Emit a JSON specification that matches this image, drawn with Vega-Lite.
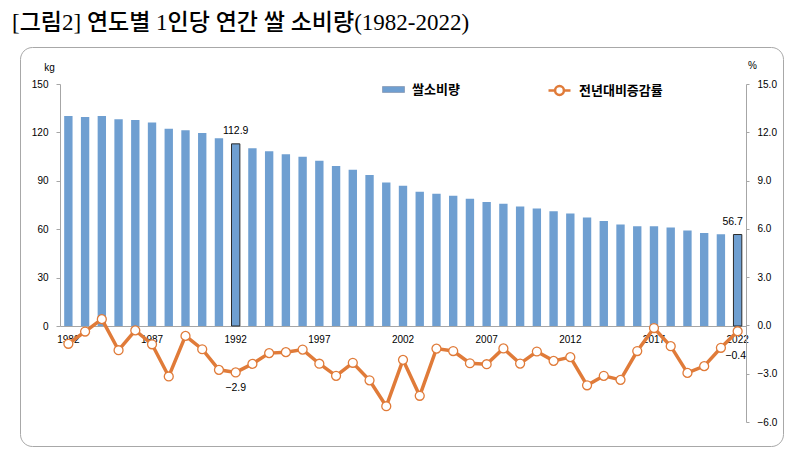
{
  "$schema": "https://vega.github.io/schema/vega-lite/v6.json",
  "width": 763,
  "height": 399,
  "autosize": {"type": "none"},
  "padding": {"left": 20, "top": 47, "right": 9, "bottom": 11},
  "background": "white",
  "config": {
    "view": {"stroke": "#a8a8a8", "strokeWidth": 1, "cornerRadius": 12},
    "font": "Liberation Sans",
    "axis": {"labelFont": "Liberation Sans", "labelFontSize": 10, "labelColor": "#000", "domainColor": "#a6a6a6", "tickColor": "#a6a6a6", "grid": false, "titleFont": "Liberation Sans", "titleFontWeight": "normal", "titleFontSize": 10, "titleColor": "#000"}
  },
  "title": {"text": "[그림2] 연도별 1인당 연간 쌀 소비량(1982-2022)", "anchor": "start", "font": "Liberation Serif, Noto Sans CJK KR", "fontSize": 23, "fontWeight": 500, "color": "#000", "offset": 12, "dx": -8},
  "data": {"values": [
    {"year": 1982, "kg": 130.1, "rate": -1.14},
    {"year": 1983, "kg": 129.6, "rate": -0.38},
    {"year": 1984, "kg": 130.1, "rate": 0.39},
    {"year": 1985, "kg": 128.1, "rate": -1.54},
    {"year": 1986, "kg": 127.7, "rate": -0.31},
    {"year": 1987, "kg": 126.2, "rate": -1.17},
    {"year": 1988, "kg": 122.2, "rate": -3.17},
    {"year": 1989, "kg": 121.4, "rate": -0.65},
    {"year": 1990, "kg": 119.6, "rate": -1.48},
    {"year": 1991, "kg": 116.3, "rate": -2.76},
    {"year": 1992, "kg": 112.9, "rate": -2.92},
    {"year": 1993, "kg": 110.2, "rate": -2.39},
    {"year": 1994, "kg": 108.3, "rate": -1.72},
    {"year": 1995, "kg": 106.5, "rate": -1.66},
    {"year": 1996, "kg": 104.9, "rate": -1.5},
    {"year": 1997, "kg": 102.4, "rate": -2.38},
    {"year": 1998, "kg": 99.2, "rate": -3.13},
    {"year": 1999, "kg": 96.9, "rate": -2.32},
    {"year": 2000, "kg": 93.6, "rate": -3.41},
    {"year": 2001, "kg": 88.9, "rate": -5.02},
    {"year": 2002, "kg": 87.0, "rate": -2.14},
    {"year": 2003, "kg": 83.2, "rate": -4.37},
    {"year": 2004, "kg": 82.0, "rate": -1.44},
    {"year": 2005, "kg": 80.7, "rate": -1.59},
    {"year": 2006, "kg": 78.8, "rate": -2.35},
    {"year": 2007, "kg": 76.9, "rate": -2.41},
    {"year": 2008, "kg": 75.8, "rate": -1.43},
    {"year": 2009, "kg": 74.0, "rate": -2.37},
    {"year": 2010, "kg": 72.8, "rate": -1.62},
    {"year": 2011, "kg": 71.2, "rate": -2.2},
    {"year": 2012, "kg": 69.8, "rate": -1.97},
    {"year": 2013, "kg": 67.2, "rate": -3.72},
    {"year": 2014, "kg": 65.1, "rate": -3.13},
    {"year": 2015, "kg": 62.9, "rate": -3.38},
    {"year": 2016, "kg": 61.9, "rate": -1.59},
    {"year": 2017, "kg": 61.8, "rate": -0.16},
    {"year": 2018, "kg": 61.0, "rate": -1.29},
    {"year": 2019, "kg": 59.2, "rate": -2.95},
    {"year": 2020, "kg": 57.7, "rate": -2.53},
    {"year": 2021, "kg": 56.9, "rate": -1.39},
    {"year": 2022, "kg": 56.7, "rate": -0.36}
  ]},
  "layer": [
    {
      "encoding": {
        "x": {"field": "year", "type": "ordinal", "scale": {"range": [40, 726], "paddingInner": 0.5, "paddingOuter": 0.25},
              "axis": {"title": null, "orient": "bottom", "offset": -120, "ticks": false, "labelAngle": 0, "labelPadding": 8, "values": [1982, 1987, 1992, 1997, 2002, 2007, 2012, 2017, 2022]}},
        "y": {"field": "kg", "type": "quantitative", "scale": {"domain": [0, 150], "range": [279, 37], "nice": false, "zero": false},
              "axis": {"orient": "left", "offset": -40, "values": [0, 30, 60, 90, 120, 150], "tickSize": 4, "labelPadding": 8, "title": "kg", "titleAngle": 0, "titleAlign": "center", "titleBaseline": "middle", "titleX": -11, "titleY": 20}}
      },
      "layer": [
        {
          "mark": {"type": "bar"},
          "encoding": {
            "color": {"datum": "쌀소비량", "scale": {"range": ["#6f9fd1"]},
                      "legend": {"orient": "none", "legendX": 362, "legendY": 31, "title": null, "padding": 0,
                                 "symbolType": "M-1,-0.27H1V0.27H-1Z", "symbolSize": 484, "symbolStrokeColor": "#8a9bb5", "symbolStrokeWidth": 0.8,
                                 "labelFont": "Noto Sans CJK KR", "labelFontSize": 13, "labelFontWeight": "bold", "labelColor": "#000", "labelOffset": 7,
                                 "encode": {"symbols": {"update": {"fill": {"value": "#9bb9e1"}, "stroke": {"value": "#8a9bb5"}}}}}},
            "stroke": {"condition": {"test": "datum.year == 1992 || datum.year == 2022", "value": "#2b2b2b"}, "value": "transparent"},
            "strokeWidth": {"condition": {"test": "datum.year == 1992 || datum.year == 2022", "value": 1}, "value": 0}
          }
        },
        {
          "transform": [{"filter": "datum.year == 1992"}],
          "mark": {"type": "text", "baseline": "bottom", "dy": -8, "fontSize": 10.5, "font": "Liberation Sans", "color": "#000"},
          "encoding": {"text": {"field": "kg", "type": "quantitative", "format": ".1f"}}
        },
        {
          "transform": [{"filter": "datum.year == 2022"}],
          "mark": {"type": "text", "baseline": "bottom", "dy": -8, "dx": -5, "fontSize": 10.5, "font": "Liberation Sans", "color": "#000"},
          "encoding": {"text": {"field": "kg", "type": "quantitative", "format": ".1f"}}
        }
      ]
    },
    {
      "encoding": {
        "x": {"field": "year", "type": "ordinal", "scale": {"range": [40, 726], "paddingInner": 0.5, "paddingOuter": 0.25}},
        "y": {"field": "rate", "type": "quantitative", "scale": {"domain": [-6, 15], "range": [375, 37], "nice": false, "zero": false},
              "axis": {"orient": "right", "offset": -37, "values": [-6, -3, 0, 3, 6, 9, 12, 15], "format": ".1f", "tickSize": 3, "labelPadding": 8, "title": "%", "titleAngle": 0, "titleAlign": "center", "titleBaseline": "middle", "titleX": 6, "titleY": 18}}
      },
      "layer": [
        {
          "mark": {"type": "line", "strokeWidth": 3.5},
          "encoding": {
            "stroke": {"datum": "전년대비증감률", "scale": {"range": ["#e07b39"]},
                       "legend": {"orient": "none", "legendX": 527, "legendY": 31, "title": null, "padding": 0,
                                  "symbolType": "M-1,0H-0.4M0.4,0H1M0.4,0A0.4,0.4,0,1,1,-0.4,0A0.4,0.4,0,1,1,0.4,0", "symbolSize": 484, "symbolStrokeWidth": 2.5,
                                  "labelFont": "Noto Sans CJK KR", "labelFontSize": 13, "labelFontWeight": "bold", "labelColor": "#000", "labelOffset": 7,
                                  "encode": {"symbols": {"update": {"fill": {"value": "#ffffff"}, "stroke": {"value": "#e07b39"}, "strokeWidth": {"value": 2.5}}}}}}
          }
        },
        {
          "mark": {"type": "point", "filled": true, "fill": "#ffffff", "stroke": "#e07b39", "strokeWidth": 1.3, "size": 80, "opacity": 1}
        },
        {
          "transform": [{"filter": "datum.year == 1992"}],
          "mark": {"type": "text", "baseline": "top", "dy": 11, "fontSize": 10.5, "font": "Liberation Sans", "color": "#000"},
          "encoding": {"text": {"field": "rate", "type": "quantitative", "format": ".1f"}}
        },
        {
          "transform": [{"filter": "datum.year == 2022"}],
          "mark": {"type": "text", "baseline": "middle", "dy": 25, "dx": -2, "fontSize": 10.5, "font": "Liberation Sans", "color": "#000"},
          "encoding": {"text": {"field": "rate", "type": "quantitative", "format": ".1f"}}
        }
      ]
    }
  ],
  "resolve": {"scale": {"y": "independent"}}
}
